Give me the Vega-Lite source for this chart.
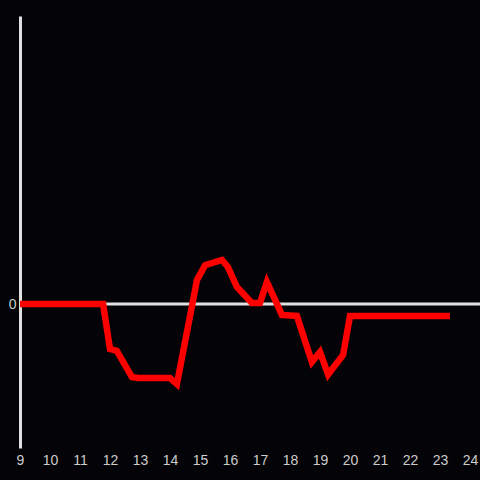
{
  "$schema": "https://vega.github.io/schema/vega-lite/v6.json",
  "width": 450,
  "height": 432,
  "autosize": {"type": "none"},
  "padding": {"left": 20, "top": 16, "right": 10, "bottom": 32},
  "background": "#040307",
  "config": {"view": {"stroke": null}, "axis": {"grid": false}, "axisX": {"labelOverlap": false, "labelFlush": false}},
  "data": {"values": [
    {"x": 9, "y": 0},
    {"x": 11.77, "y": 0},
    {"x": 12.0, "y": -0.3125},
    {"x": 12.23, "y": -0.326},
    {"x": 12.73, "y": -0.507},
    {"x": 12.93, "y": -0.514},
    {"x": 14.0, "y": -0.514},
    {"x": 14.23, "y": -0.556},
    {"x": 14.9, "y": 0.167},
    {"x": 15.17, "y": 0.27},
    {"x": 15.73, "y": 0.306},
    {"x": 15.93, "y": 0.257},
    {"x": 16.23, "y": 0.118},
    {"x": 16.73, "y": 0.007},
    {"x": 17.0, "y": 0.007},
    {"x": 17.23, "y": 0.153},
    {"x": 17.73, "y": -0.076},
    {"x": 18.23, "y": -0.083},
    {"x": 18.73, "y": -0.403},
    {"x": 19.0, "y": -0.333},
    {"x": 19.27, "y": -0.49},
    {"x": 19.77, "y": -0.354},
    {"x": 20.0, "y": -0.083},
    {"x": 23.33, "y": -0.083}
  ]},
  "layer": [
    {
      "data": {"values": [{"y": 0, "x": 9, "xe": 24.34}]},
      "mark": {"type": "rule", "color": "#e0e0e0", "strokeWidth": 3},
      "encoding": {
        "x": {"field": "x", "type": "quantitative", "scale": {"domain": [9, 24], "nice": false, "zero": false},
          "axis": {"values": [9,10,11,12,13,14,15,16,17,18,19,20,21,22,23,24], "domain": false, "ticks": false, "title": null, "labelColor": "#cccccc", "labelFontSize": 14, "labelFont": "Liberation Sans", "labelPadding": 5, "labelFlush": false, "labelOverlap": false}},
        "x2": {"field": "xe"},
        "y": {"field": "y", "type": "quantitative", "scale": {"domain": [-1, 2], "nice": false},
          "axis": {"values": [0], "format": "d", "domain": true, "domainColor": "#e0e0e0", "domainWidth": 3, "ticks": false, "title": null, "labelColor": "#cccccc", "labelFontSize": 14, "labelFont": "Liberation Sans", "labelPadding": 4}}
      }
    },
    {
      "mark": {"type": "line", "color": "#ff0000", "strokeWidth": 6.5, "strokeJoin": "miter"},
      "encoding": {
        "x": {"field": "x", "type": "quantitative", "scale": {"domain": [9, 24], "nice": false, "zero": false},
          "axis": {"values": [9,10,11,12,13,14,15,16,17,18,19,20,21,22,23,24], "domain": false, "ticks": false, "title": null, "labelColor": "#cccccc", "labelFontSize": 14, "labelFont": "Liberation Sans", "labelPadding": 5, "labelFlush": false, "labelOverlap": false}},
        "y": {"field": "y", "type": "quantitative", "scale": {"domain": [-1, 2], "nice": false},
          "axis": {"values": [0], "format": "d", "domain": true, "domainColor": "#e0e0e0", "domainWidth": 3, "ticks": false, "title": null, "labelColor": "#cccccc", "labelFontSize": 14, "labelFont": "Liberation Sans", "labelPadding": 4}}
      }
    }
  ]
}
